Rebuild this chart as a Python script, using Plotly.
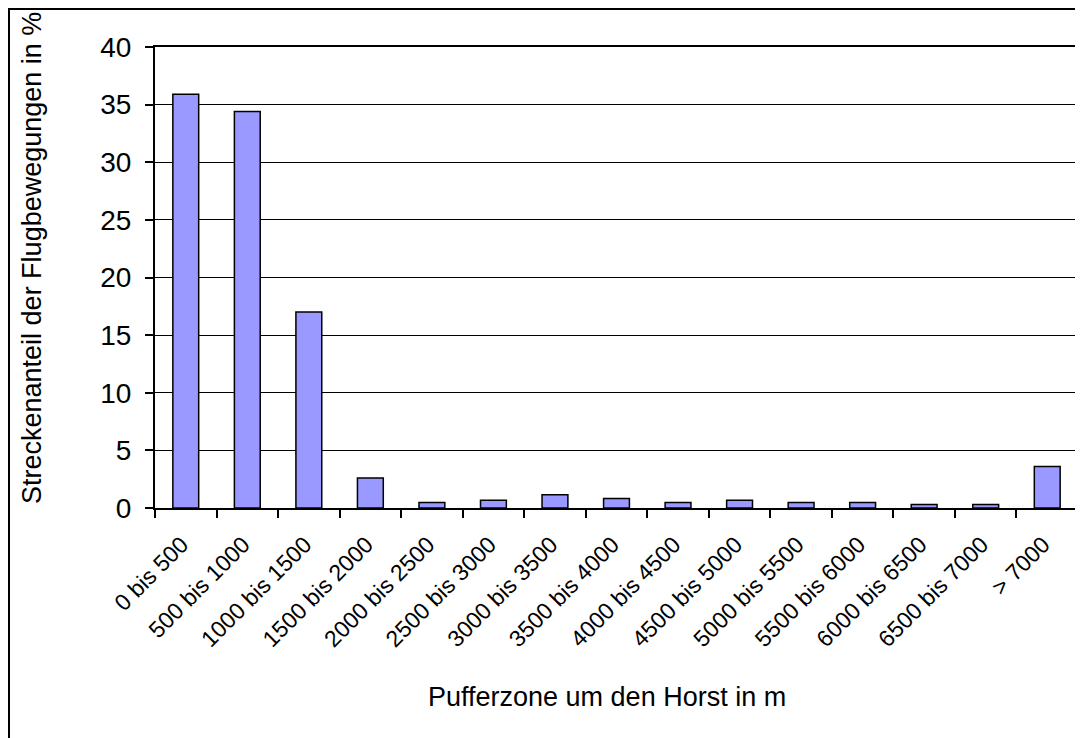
import plotly.graph_objects as go

categories = ["0 bis 500", "500 bis 1000", "1000 bis 1500", "1500 bis 2000", "2000 bis 2500",
              "2500 bis 3000", "3000 bis 3500", "3500 bis 4000", "4000 bis 4500", "4500 bis 5000",
              "5000 bis 5500", "5500 bis 6000", "6000 bis 6500", "6500 bis 7000", "> 7000"]
values = [35.9, 34.4, 17.0, 2.6, 0.47, 0.67, 1.16, 0.82, 0.47, 0.67, 0.47, 0.47, 0.3, 0.3, 3.6]
y_ticks = [0, 5, 10, 15, 20, 25, 30, 35, 40]

x_title = "Pufferzone um den Horst in m"
y_title = "Streckenanteil der Flugbewegungen in %"

FONT = "Arial, Liberation Sans, sans-serif"

fig = go.Figure()
fig.add_trace(go.Bar(
    x=categories, y=values,
    marker=dict(color="#9999FF", line=dict(color="black", width=1.5)),
    showlegend=False,
))

# page body has an 8px offset
OFF = 8
W, H = 1083 - OFF, 738 - OFF
L, R, T, B = 147, 5, 39, 230
pw, ph = W - L - R, H - T - B

def px_x(x):
    return (x - OFF - L) / pw

def px_y(y):
    return (H - B - (y - OFF)) / ph

fig.update_layout(
    width=W, height=H,
    margin=dict(l=L, r=R, t=T, b=B, pad=0),
    paper_bgcolor="white", plot_bgcolor="white",
    bargap=0.58,
    font=dict(family=FONT, color="black"),
    xaxis=dict(
        type="category", tickangle=-45, tickfont=dict(size=23, family=FONT, color="black"),
        ticklabelshift=-4, ticklabelstandoff=12,
        showline=True, linecolor="black", linewidth=2, mirror=True,
        ticks="outside", tickson="boundaries", ticklen=8, tickwidth=1.5, tickcolor="black",
        showgrid=False, automargin=False,
    ),
    yaxis=dict(
        range=[0, 40], tickvals=y_ticks, tickfont=dict(size=28, family=FONT, color="black"),
        ticklabelstandoff=8,
        showline=True, linecolor="black", linewidth=2, mirror=True,
        ticks="outside", ticklen=8, tickwidth=1.5, tickcolor="black",
        showgrid=True, gridcolor="black", gridwidth=1, zeroline=False, automargin=False,
    ),
    annotations=[
        dict(text=x_title, xref="paper", yref="paper", x=px_x(607), y=px_y(697),
             xanchor="center", yanchor="middle", showarrow=False, font=dict(size=27, family=FONT)),
        dict(text=y_title, xref="paper", yref="paper", x=px_x(32), y=px_y(258),
             xanchor="center", yanchor="middle", textangle=-90, showarrow=False,
             font=dict(size=27, family=FONT)),
    ],
    shapes=[
        dict(type="rect", xref="paper", yref="paper", x0=px_x(OFF + 1), y0=px_y(770),
             x1=px_x(1100), y1=px_y(OFF + 1), line=dict(color="black", width=2), layer="below"),
    ],
)

fig.write_html("out.html")
